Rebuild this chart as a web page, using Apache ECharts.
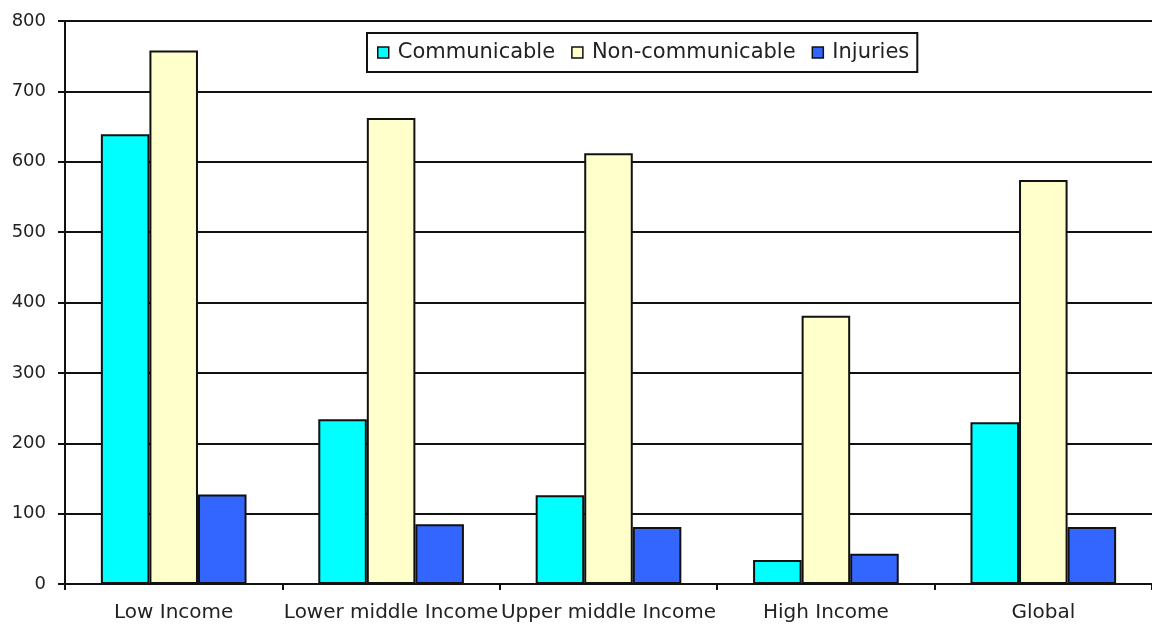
<!DOCTYPE html>
<html>
<head>
<meta charset="utf-8">
<script src="https://cdn.jsdelivr.net/npm/echarts@6/dist/echarts.min.js"></script>
<style>
  html, body { margin: 0; padding: 0; background: #fff; }
  #chart { width: 1152px; height: 631px; }
</style>
</head>
<body>
<div id="chart"></div>
<script>
// Income groups along the x axis
const categories = ['Low Income', 'Lower middle Income', 'Upper middle Income', 'High Income', 'Global'];
// Values per cause group
const communicable = [639, 234, 126, 34, 230];
const nonCommunicable = [758, 662, 612, 381, 574];
const injuries = [127, 85, 81, 43, 81];
const seriesNames = ['Communicable', 'Non-communicable', 'Injuries'];
const seriesColors = ['#00FFFF', '#FFFFCC', '#3366FF'];
const yTicks = { min: 0, max: 800, interval: 100 };

const chart = echarts.init(document.getElementById('chart'));
const font = 'DejaVu Sans, Verdana, sans-serif';

const makeBar = (name, data, color) => ({
  name, type: 'bar', data,
  barGap: '0%', barCategoryGap: '33%',
  itemStyle: { color, borderColor: '#111', borderWidth: 2 }
});

chart.setOption({
  animation: false,
  backgroundColor: '#fff',
  // plot area runs slightly past the right edge of the canvas
  grid: { left: 65, width: 1094, top: 21, bottom: 47, containLabel: false },
  legend: {
    left: 367, top: 33,
    padding: [9, 8, 9, 10],
    itemGap: 16,
    itemWidth: 11, itemHeight: 11,
    borderColor: '#111', borderWidth: 2,
    backgroundColor: '#fff',
    icon: 'rect',
    itemStyle: { borderColor: '#111', borderWidth: 1.5 },
    textStyle: { fontFamily: font, fontSize: 21, color: '#222', padding: [0, 0, 0, 4] },
    data: seriesNames
  },
  xAxis: {
    type: 'category',
    data: categories,
    axisLine: { lineStyle: { color: '#111', width: 2 } },
    axisTick: { show: true, length: 6, lineStyle: { color: '#111', width: 2 } },
    axisLabel: { fontFamily: font, fontSize: 20, color: '#222', margin: 19, interval: 0 }
  },
  yAxis: {
    type: 'value',
    min: yTicks.min, max: yTicks.max, interval: yTicks.interval,
    axisLine: { show: true, lineStyle: { color: '#111', width: 2 } },
    axisTick: { show: true, length: 7, lineStyle: { color: '#111', width: 2 } },
    axisLabel: { fontFamily: font, fontSize: 18, color: '#222', margin: 19 },
    splitLine: { lineStyle: { color: '#111', width: 2 } }
  },
  series: [
    makeBar(seriesNames[0], communicable, seriesColors[0]),
    makeBar(seriesNames[1], nonCommunicable, seriesColors[1]),
    makeBar(seriesNames[2], injuries, seriesColors[2])
  ]
});
</script>
</body>
</html>
